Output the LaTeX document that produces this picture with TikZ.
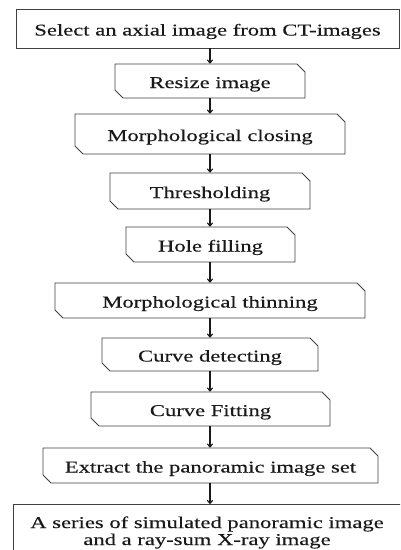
\documentclass[tikz,border=0pt]{standalone}
\usepackage{fontspec}
\setmainfont[FakeStretch=1.37,FakeBold=0.3]{Liberation Serif}
\usetikzlibrary{shapes.misc,arrows.meta}
\begin{document}
\begin{tikzpicture}[x=1pt,y=-1pt,
  every node/.style={font=\fontsize{16.5}{17}\selectfont, text=black!90, inner sep=0pt, text height=14pt, text depth=0pt},
  plainbox/.style={draw=black!75, line width=0.9pt, rectangle},
  snipbox/.style={draw=black!75, line width=0.9pt, chamfered rectangle, chamfered rectangle corners={north east, south west}, chamfered rectangle xsep=4.5pt, chamfered rectangle ysep=3.5pt},
  arr/.style={-{To[length=4pt,width=6pt]}, line width=1.1pt, black!90}]
\clip (0,0) rectangle (400,550);
\node[plainbox, minimum width=383pt, minimum height=39pt] (n1) at (207.5,28.5) {Select an axial image from CT-images};
\node[snipbox, minimum width=190pt, minimum height=34pt] (n2) at (210,81) {Resize image};
\node[snipbox, minimum width=270pt, minimum height=40pt] (n3) at (210,134) {Morphological closing};
\node[snipbox, minimum width=200pt, minimum height=36pt] (n4) at (210,191) {Thresholding};
\node[snipbox, minimum width=169pt, minimum height=35pt] (n5) at (210.5,244.5) {Hole filling};
\node[snipbox, minimum width=310pt, minimum height=35pt] (n6) at (210,300.5) {Morphological thinning};
\node[snipbox, minimum width=216pt, minimum height=33pt] (n7) at (210,354.5) {Curve detecting};
\node[snipbox, minimum width=239pt, minimum height=34pt] (n8) at (210.5,409) {Curve Fitting};
\node[snipbox, minimum width=335pt, minimum height=35pt] (n9) at (210.5,465.5) {Extract the panoramic image set};
\node[plainbox, minimum width=390pt, minimum height=100pt, anchor=north west] (n10) at (13,504) {};
\node[align=center, text height=, text depth=] (n10t) at (207,532.5) {A series of simulated panoramic image\\and a ray-sum X-ray image};
\draw[arr] (n1.south -| n2.north) -- (n2.north);
\draw[arr] (n2.south) -- (n3.north);
\draw[arr] (n3.south) -- (n4.north);
\draw[arr] (n4.south) -- (n5.north -| n4.south);
\draw[arr] (n5.south -| n4.south) -- (n6.north);
\draw[arr] (n6.south) -- (n7.north);
\draw[arr] (n7.south) -- (n8.north -| n7.south);
\draw[arr] (n8.south -| n7.south) -- (n9.north -| n7.south);
\draw[arr] (n9.south -| n7.south) -- (n10.north -| n7.south);
\end{tikzpicture}
\end{document}
